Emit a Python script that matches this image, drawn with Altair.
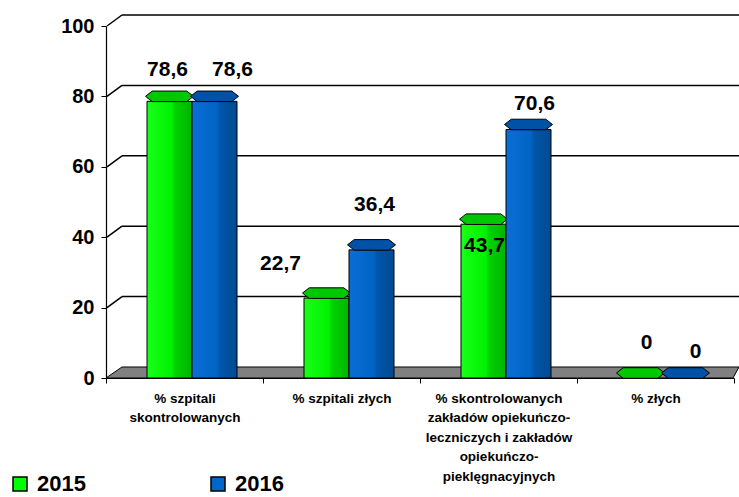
import altair as alt
import pandas as pd

# ---- data -------------------------------------------------------------
categories = [
    "% szpitali\nskontrolowanych",
    "% szpitali złych",
    "% skontrolowanych\nzakładów opiekuńczo-\nleczniczych i zakładów\nopiekuńczo-\npieklęgnacyjnych",
    "% złych",
]
years = ["2015", "2016"]
values_2015 = [78.6, 22.7, 43.7, 0]
values_2016 = [78.6, 36.4, 70.6, 0]
y_ticks = [0, 20, 40, 60, 80, 100]

# per-label nudges (dx, dy) in pixels, one per category
label_nudge = {
    "2015": [(-2, -31), (-46, -34), (1, 22), (6, -35)],
    "2016": [(18, -31), (3, -45), (6, -25), (10, -26)],
}

FONT = "Liberation Sans"
DEPTH_X, DEPTH_Y = 16, -11  # offset of the back wall

rows = []
for yr, vals in zip(years, [values_2015, values_2016]):
    for cat, v in zip(categories, vals):
        label = "0" if v == 0 else f"{v:.1f}".replace(".", ",")
        rows.append({"category": cat, "year": yr, "value": v, "label": label})
df = pd.DataFrame(rows)
grid_df = pd.DataFrame({"value": y_ticks})

# ---- shared encodings --------------------------------------------------
x_enc = alt.X(
    "category:N",
    sort=categories,
    scale=alt.Scale(paddingInner=0, paddingOuter=0),
    axis=alt.Axis(
        title=None,
        labelExpr="split(datum.label, '\\n')",
        labelAngle=0,
        labelFont=FONT,
        labelFontSize=13.5,
        labelFontWeight="bold",
        labelColor="black",
        labelLineHeight=19.5,
        labelLimit=300,
        labelPadding=8,
        tickBand="extent",
        tickSize=5,
        tickColor="black",
        domainColor="black",
        domainWidth=1.2,
    ),
)
# the pair of bars sits a little right of the band centre (depth effect)
xoff_enc = alt.XOffset(
    "year:N", sort=years,
    scale=alt.Scale(range=[41, 131], paddingInner=0, paddingOuter=0),
)
y_scale = alt.Scale(domain=[0, 100], nice=False, zero=True)
y_enc = alt.Y(
    "value:Q",
    scale=y_scale,
    axis=alt.Axis(
        title=None,
        values=y_ticks,
        grid=False,
        labelFont=FONT,
        labelFontSize=20,
        labelFontWeight="bold",
        labelColor="black",
        labelPadding=7,
        tickSize=5,
        tickColor="black",
        domainColor="black",
        domainWidth=1.2,
    ),
)

# ---- floor and back wall ------------------------------------------------
floor = (
    alt.Chart(pd.DataFrame({"value": [0]}))
    .mark_point(
        shape="M -1 0.0174 L 0.981 0.0174 L 1 -0.0174 L -0.9495 -0.0174 Z",
        size=633 ** 2,
        filled=True,
        fill="#808080",
        stroke="black",
        strokeWidth=1,
        opacity=1,
        yOffset=-5.5,
    )
    .encode(x=alt.value(316.5), y=y_enc)
)

back_grid = (
    alt.Chart(grid_df)
    .transform_filter("datum.value > 0")
    .mark_rule(color="black", strokeWidth=1.5, yOffset=DEPTH_Y)
    .encode(y=y_enc, x=alt.value(DEPTH_X), x2=alt.value(633))
)

side_links = (
    alt.Chart(grid_df)
    .transform_filter("datum.value > 0")
    .mark_rule(color="black", strokeWidth=1.5, x2Offset=0, y2Offset=DEPTH_Y)
    .encode(
        y=y_enc,
        y2=alt.Y2("value:Q"),
        x=alt.value(1),
        x2=alt.value(DEPTH_X),
    )
)

# ---- bars ---------------------------------------------------------------
face_gradients = {
    "2015": ["#19FF19", "#00F200", "#00D200", "#00B400"],
    "2016": ["#0A6ED6", "#0064C4", "#0056AA", "#004A92"],
}
top_colors = {"2015": "#00C800", "2016": "#0052A6"}

layers = [floor, back_grid, side_links]

for yr in years:
    g = face_gradients[yr]
    bars = (
        alt.Chart(df)
        .transform_filter(f"datum.year == '{yr}' && datum.value > 0")
        .mark_bar(
            fill=alt.Gradient(
                gradient="linear",
                x1=0, x2=1, y1=0, y2=0,
                stops=[
                    alt.GradientStop(offset=0, color=g[0]),
                    alt.GradientStop(offset=0.55, color=g[1]),
                    alt.GradientStop(offset=0.62, color=g[2]),
                    alt.GradientStop(offset=1, color=g[3]),
                ],
            ),
            stroke="black",
            strokeWidth=1,
        )
        .encode(x=x_enc, xOffset=xoff_enc, y=y_enc, y2=alt.datum(0))
    )
    tops = (
        alt.Chart(df)
        .transform_filter(f"datum.year == '{yr}'")
        .mark_point(
            shape="M -1 0 L -0.72 -0.22 L 0.72 -0.22 L 1 0 L 0.72 0.22 L -0.72 0.22 Z",
            size=48 ** 2,
            filled=True,
            fill=top_colors[yr],
            stroke="black",
            strokeWidth=1,
            opacity=1,
            yOffset=-5,
        )
        .encode(x=x_enc, xOffset=xoff_enc, y=y_enc)
    )
    layers += [bars, tops]

# ---- value labels ---------------------------------------------------------
for yr in years:
    for i, cat in enumerate(categories):
        dx, dy = label_nudge[yr][i]
        txt = (
            alt.Chart(df)
            .transform_filter(alt.FieldEqualPredicate(field="year", equal=yr))
            .transform_filter(alt.FieldEqualPredicate(field="category", equal=cat))
            .mark_text(
                font=FONT,
                fontSize=21,
                fontWeight="bold",
                color="black",
                baseline="middle",
                align="center",
                dx=dx,
                dy=dy,
            )
            .encode(x=x_enc, xOffset=xoff_enc, y=y_enc, text="label:N")
        )
        layers.append(txt)

# ---- legend carrier -----------------------------------------------------------
legend_layer = (
    alt.Chart(df)
    .mark_point(opacity=0, filled=True, shape="square")
    .encode(
        x=x_enc,
        xOffset=xoff_enc,
        y=y_enc,
        color=alt.Color(
            "year:N",
            sort=years,
            scale=alt.Scale(domain=years, range=["#00FF00", "#0066CC"]),
            legend=alt.Legend(
                title=None,
                orient="none",
                legendX=-97,
                legendY=447,
                direction="horizontal",
                columnPadding=121,
                symbolType="square",
                symbolSize=196,
                symbolOpacity=1,
                symbolStrokeColor="black",
                symbolStrokeWidth=1.5,
                labelFont=FONT,
                labelFontSize=22,
                labelFontWeight="bold",
                labelColor="black",
                labelOffset=6,
                padding=0,
            ),
        ),
    )
)
layers.append(legend_layer)

chart = (
    alt.layer(*layers)
    .properties(
        width=628,
        height=352,
        autosize=alt.AutoSizeParams(type="none"),
        padding={"left": 106, "top": 26, "right": 5, "bottom": 119},
        background="white",
    )
    .configure_view(stroke=None)
)

chart.save("out.html", embed_options={"renderer": "svg", "actions": False})
